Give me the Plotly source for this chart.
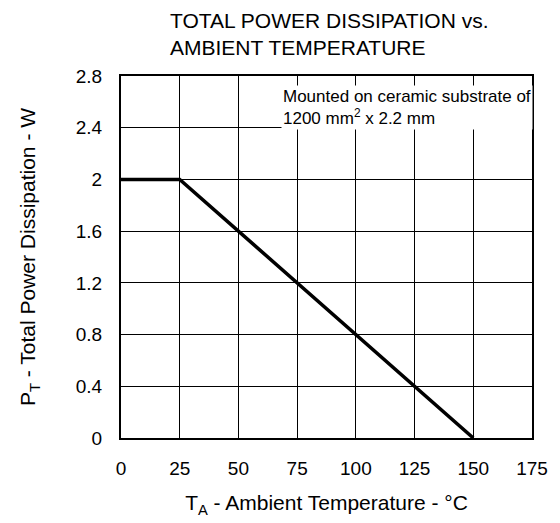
import plotly.graph_objects as go

# Data
temp_c = [0, 25, 150]
power_w = [2.0, 2.0, 0.0]
x_ticks = [0, 25, 50, 75, 100, 125, 150, 175]
x_tick_labels = ["0", "25", "50", "75", "100", "125", "150", "175"]
y_ticks = [0, 0.4, 0.8, 1.2, 1.6, 2, 2.4, 2.8]
y_tick_labels = ["0", "0.4", "0.8", "1.2", "1.6", "2", "2.4", "2.8"]

FONT = "Liberation Sans, Arial, sans-serif"
OFF = 8  # browser body margin

W, H = 560 - OFF, 523 - OFF
L, R, T, B = 121 - OFF, 23, 76 - OFF, 85
plot_h = H - T - B

fig = go.Figure()
fig.add_trace(go.Scatter(
    x=temp_c, y=power_w, mode="lines",
    line=dict(color="black", width=3.5),
    showlegend=False, hoverinfo="skip",
))

fig.update_layout(
    width=W, height=H,
    margin=dict(l=L, r=R, t=T, b=B),
    paper_bgcolor="white", plot_bgcolor="white",
    font=dict(family=FONT, size=19, color="black"),
)

fig.update_xaxes(
    range=[0, 175], tickvals=x_ticks, ticktext=x_tick_labels,
    showgrid=True, gridcolor="black", gridwidth=1,
    showline=True, linecolor="black", linewidth=2, mirror=True,
    ticks="outside", ticklen=12, tickcolor="rgba(0,0,0,0)", zeroline=False,
    tickfont=dict(family=FONT, size=19, color="black"),
    title=dict(text="T<sub>A</sub> - Ambient Temperature - °C", standoff=18,
               font=dict(family=FONT, size=21, color="black")),
)
fig.update_yaxes(
    range=[0, 2.8], tickvals=y_ticks, ticktext=y_tick_labels,
    showgrid=True, gridcolor="black", gridwidth=1,
    showline=True, linecolor="black", linewidth=2, mirror=True,
    ticks="outside", ticklen=13, tickcolor="rgba(0,0,0,0)", zeroline=False,
    tickfont=dict(family=FONT, size=19, color="black"),
    title=dict(text="P<sub>T</sub> - Total Power Dissipation - W", standoff=34,
               font=dict(family=FONT, size=21, color="black")),
)

# Chart title (two left-aligned lines)
fig.add_annotation(
    x=(170 - 121) / 416, y=1 + 16 / plot_h, xref="paper", yref="paper",
    xanchor="left", yanchor="bottom", align="left",
    text="TOTAL POWER DISSIPATION vs.<br>AMBIENT TEMPERATURE",
    showarrow=False, borderpad=0,
    font=dict(family=FONT, size=21, color="black"),
)

# Note inside the plot
fig.add_annotation(
    x=68, y=2.73, xref="x", yref="y",
    xanchor="left", yanchor="top", align="left",
    text="Mounted on ceramic substrate of<br>1200 mm<sup>2</sup> x 2.2 mm",
    showarrow=False, bgcolor="white", borderpad=1,
    font=dict(family=FONT, size=17, color="black"),
)

fig.write_html("out.html")
